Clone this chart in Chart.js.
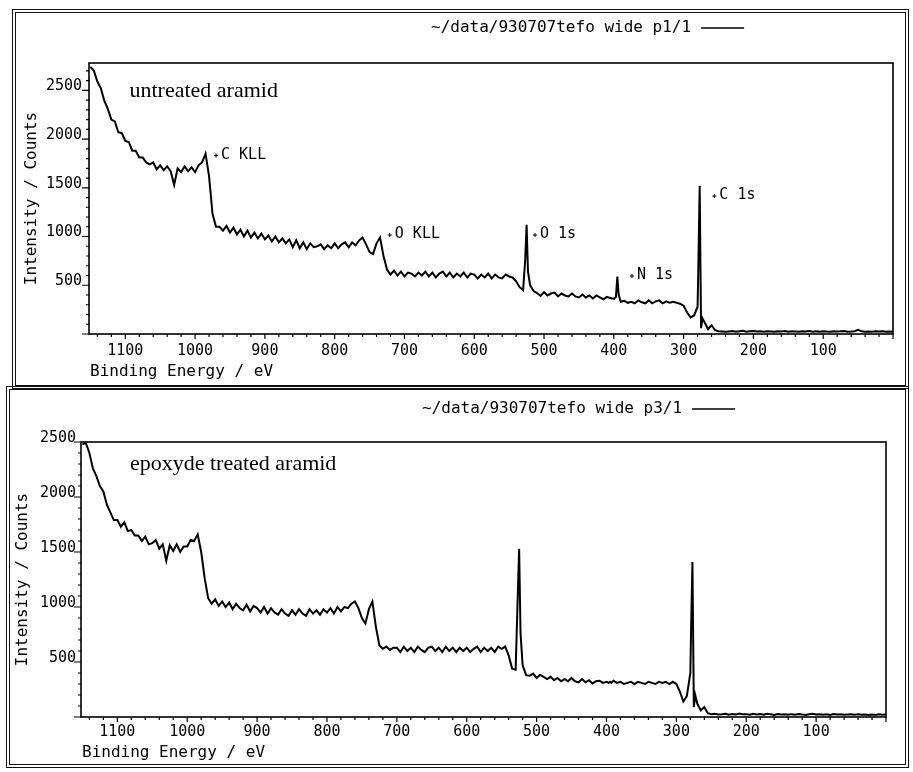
<!DOCTYPE html>
<html>
<head>
<meta charset="utf-8">
<title>XPS wide scans, aramid</title>
<script src="https://cdn.jsdelivr.net/npm/chart.js@4.4.0/dist/chart.umd.min.js"></script>
<style>
    body { margin: 0; background: #fff; width: 913px; height: 772px; position: relative; overflow: hidden; }
    .frame { position: absolute; border: 4px double #111; box-sizing: border-box; }
    #frameTop { left: 12px; top: 9px; width: 897px; height: 380px; }
    #frameBottom { left: 6px; top: 386px; width: 903px; height: 382px; }
    canvas { position: absolute; left: 0; }
    #topChart { top: 0; }
    #bottomChart { top: 388px; }
</style>
</head>
<body>
<div class="frame" id="frameTop"></div>
<div class="frame" id="frameBottom"></div>
<canvas id="topChart" width="913" height="388"></canvas>
<canvas id="bottomChart" width="913" height="384"></canvas>
<script>
// binding energy (eV), shared by both scans
const energy = [
    1150, 1145, 1140, 1135, 1130, 1125, 1120, 1115, 1110, 1105,
    1100, 1095, 1090, 1085, 1080, 1075, 1070, 1065, 1060, 1055,
    1050, 1045, 1040, 1035, 1030, 1025, 1020, 1015, 1010, 1005,
    1000, 995, 990, 985, 980, 975, 970, 965, 960, 955,
    950, 945, 940, 935, 930, 925, 920, 915, 910, 905,
    900, 895, 890, 885, 880, 875, 870, 865, 860, 855,
    850, 845, 840, 835, 830, 825, 820, 815, 810, 805,
    800, 795, 790, 785, 780, 775, 770, 765, 760, 755,
    750, 745, 740, 735, 730, 725, 720, 715, 710, 705,
    700, 695, 690, 685, 680, 675, 670, 665, 660, 655,
    650, 645, 640, 635, 630, 625, 620, 615, 610, 605,
    600, 595, 590, 585, 580, 575, 570, 565, 560, 555,
    550, 545, 540, 535, 530, 527, 525, 523, 520, 515,
    510, 505, 500, 495, 490, 485, 480, 475, 470, 465,
    460, 455, 450, 445, 440, 435, 430, 425, 420, 415,
    410, 405, 400, 397, 395, 393, 390, 385, 380, 375,
    370, 365, 360, 355, 350, 345, 340, 335, 330, 325,
    320, 315, 310, 305, 300, 295, 290, 285, 280, 279,
    277, 275, 273, 270, 265, 260, 255, 250, 245, 240,
    235, 230, 225, 220, 215, 210, 205, 200, 195, 190,
    185, 180, 175, 170, 165, 160, 155, 150, 145, 140,
    135, 130, 125, 120, 115, 110, 105, 100, 95, 90,
    85, 80, 75, 70, 65, 60, 55, 50, 45, 40,
    35, 30, 25, 20, 15, 10, 5, 0
];

// untreated aramid (p1/1)
const untreatedCounts = [
    2740, 2700, 2590, 2520, 2390, 2310, 2200, 2180, 2070, 2060,
    1980, 1970, 1880, 1880, 1810, 1810, 1760, 1740, 1760, 1690,
    1730, 1680, 1720, 1670, 1530, 1700, 1660, 1720, 1670, 1710,
    1660, 1730, 1760, 1850, 1620, 1230, 1100, 1100, 1060, 1110,
    1040, 1090, 1020, 1070, 1000, 1060, 990, 1040, 980, 1030,
    970, 1010, 950, 1000, 940, 980, 930, 970, 890, 960,
    880, 940, 870, 930, 890, 900, 920, 870, 910, 880,
    930, 880, 920, 940, 890, 940, 910, 960, 990, 920,
    840, 820, 930, 990, 800, 660, 610, 650, 600, 640,
    590, 630, 620, 590, 630, 600, 640, 590, 630, 580,
    620, 640, 590, 630, 580, 620, 590, 630, 580, 620,
    610, 570, 610, 580, 620, 570, 610, 580, 570, 610,
    590, 580, 540, 480, 450, 760, 1120, 640, 500, 440,
    420, 390, 430, 395, 415, 425, 385, 415, 395, 385,
    415, 385, 375, 405, 375, 395, 365, 395, 375, 355,
    380, 370, 360, 380, 590, 400, 330, 340, 320, 330,
    315, 345, 325, 315, 345, 315, 335, 345, 315, 335,
    320, 330, 320, 310, 290, 220, 170, 190, 280, 650,
    1520, 60, 160, 120, 50, 90, 40, 28, 25, 22,
    26, 30, 23, 28, 32, 24, 27, 30, 25, 28,
    24, 29, 26, 23, 28, 25, 30, 24, 27, 26,
    23, 28, 25, 30, 24, 27, 23, 29, 26, 24,
    28, 25, 27, 30, 24, 26, 29, 42, 27, 24,
    26, 23, 28, 25, 27, 24, 26, 23
];

// epoxyde treated aramid (p3/1)
const epoxydeCounts = [
    2480, 2490, 2400, 2260, 2190, 2100, 2050, 1930, 1860, 1790,
    1790, 1730, 1770, 1690, 1700, 1650, 1650, 1600, 1640, 1570,
    1580, 1610, 1530, 1570, 1420, 1560, 1510, 1570, 1500, 1550,
    1550, 1610, 1600, 1660, 1500, 1260, 1080, 1030, 1070, 1010,
    1050, 1000, 1040, 980, 1030, 990, 970, 1020, 960, 1010,
    990, 950, 1000, 940, 990, 950, 930, 980, 940, 920,
    970, 930, 980, 940, 920, 980, 940, 970, 930, 980,
    950, 990, 940, 1000, 960, 1000, 990, 1030, 1050, 990,
    900, 850, 980, 1050, 820, 650, 620, 640, 610, 630,
    630, 590, 640, 600, 630, 590, 640, 610, 590, 630,
    640, 600, 630, 590, 640, 600, 630, 590, 630, 600,
    630, 590, 620, 640, 590, 630, 600, 630, 590, 640,
    620, 640, 560, 440, 430, 1100, 1530, 760, 470, 380,
    375, 395, 355, 385, 365, 345, 365, 335, 355, 325,
    345, 325, 355, 325, 315, 345, 315, 335, 305, 325,
    330, 310, 320, 310, 320, 310, 330, 310, 320, 300,
    310, 320, 300, 320, 310, 300, 320, 310, 300, 320,
    310, 320, 300, 320, 300, 230, 140, 190, 400, 770,
    1410, 90, 200, 120, 60, 90, 35, 25, 30, 22,
    25, 30, 20, 28, 22, 32, 24, 26, 20, 29,
    23, 27, 21, 30, 24, 19, 27, 22, 25, 20,
    26, 21, 28, 23, 19, 25, 30, 22, 26, 21,
    24, 19, 27, 22, 25, 20, 23, 26, 21, 24,
    20, 23, 18, 22, 19, 24, 20, 22
];

// labelled ticks
const energyTicks = [1100, 1000, 900, 800, 700, 600, 500, 400, 300, 200, 100];
const countTicks = [500, 1000, 1500, 2000, 2500];

// peak markers of the untreated scan, placed in data units (eV, counts)
const peakNames = ['C KLL', 'O KLL', 'O 1s', 'N 1s', 'C 1s'];
const peakMarkEnergy = [970, 721, 513, 374, 256];
const peakMarkCounts = [1830, 1015, 1015, 595, 1415];

const mono = '"DejaVu Sans Mono", monospace';
const serif = '"Liberation Serif", "DejaVu Serif", serif';

function decorPlugin(p) {
    return {
        id: 'decor',
        afterDatasetsDraw(chart) {
            const {ctx, chartArea: a, scales: {x, y}} = chart;
            ctx.save();
            ctx.strokeStyle = '#000';
            ctx.fillStyle = '#000';

            // plot box
            ctx.lineWidth = 1.6;
            ctx.strokeRect(a.left, a.top, a.right - a.left, a.bottom - a.top);

            // outside tick marks: 20 eV and 100 counts
            ctx.lineWidth = 1.2;
            ctx.beginPath();
            for (let e = 0; e <= 1140; e += 20) {
                const px = x.getPixelForValue(e);
                ctx.moveTo(px, a.bottom);
                ctx.lineTo(px, a.bottom + (e % 100 === 0 ? 5 : 3));
            }
            for (let c = 0; c <= p.yMax; c += 100) {
                const py = y.getPixelForValue(c);
                ctx.moveTo(a.left, py);
                ctx.lineTo(a.left - (c % 500 === 0 ? 7 : 3), py);
            }
            ctx.stroke();

            // x axis title, left aligned under the axis
            ctx.font = '16px ' + mono;
            ctx.textAlign = 'left';
            ctx.textBaseline = 'middle';
            ctx.fillText('Binding Energy / eV', a.left + 1, a.bottom + p.xTitleDy);

            // file name + legend line
            ctx.fillText(p.file, p.headerX, p.headerY);
            const w = ctx.measureText(p.file).width;
            ctx.lineWidth = 1.5;
            ctx.beginPath();
            ctx.moveTo(p.headerX + w + 10, p.headerY);
            ctx.lineTo(p.headerX + w + 53, p.headerY);
            ctx.stroke();

            // sample name
            ctx.font = '22px ' + serif;
            ctx.textBaseline = 'alphabetic';
            ctx.fillText(p.sample, x.getPixelForValue(p.sampleE), y.getPixelForValue(p.sampleC));

            if (p.peaks) {
                ctx.font = '15px ' + mono;
                ctx.lineWidth = 1;
                peakNames.forEach((name, i) => {
                    const mx = x.getPixelForValue(peakMarkEnergy[i]);
                    const my = y.getPixelForValue(peakMarkCounts[i]);
                    ctx.beginPath();
                    ctx.moveTo(mx - 2, my);
                    ctx.lineTo(mx + 2, my);
                    ctx.moveTo(mx, my - 2);
                    ctx.lineTo(mx, my + 2);
                    ctx.stroke();
                    ctx.fillText(name, mx + 5, my + 3);
                });
            }
            ctx.restore();
        }
    };
}

function drawSpectrum(canvasId, counts, p) {
    const points = energy.map((e, i) => ({x: e, y: counts[i]}));
    return new Chart(document.getElementById(canvasId), {
        type: 'line',
        data: {
            datasets: [{
                    data: points,
                    borderColor: '#000',
                    borderWidth: 2,
                    pointRadius: 0,
                    tension: 0,
                    fill: false
                }]
        },
        options: {
            responsive: false,
            animation: false,
            layout: {padding: p.padding},
            plugins: {legend: {display: false}, tooltip: {enabled: false}},
            scales: {
                x: {
                    type: 'linear',
                    reverse: true,
                    min: 0,
                    max: 1152,
                    grid: {display: false, drawTicks: false},
                    border: {display: false},
                    afterFit: s => { s.height = p.xAxisHeight; },
                    afterBuildTicks: s => { s.ticks = energyTicks.map(v => ({value: v})); },
                    ticks: {
                        autoSkip: false,
                        maxRotation: 0,
                        padding: p.xTickPad,
                        color: '#000',
                        font: {family: mono, size: 15},
                        callback: v => String(v)
                    },
                    title: {display: false}
                },
                y: {
                    min: 0,
                    max: p.yMax,
                    grid: {display: false, drawTicks: false},
                    border: {display: false},
                    afterFit: s => { s.width = p.yAxisWidth; },
                    afterBuildTicks: s => { s.ticks = countTicks.map(v => ({value: v})); },
                    ticks: {
                        autoSkip: false,
                        padding: p.yTickPad,
                        labelOffset: -4,
                        color: '#000',
                        font: {family: mono, size: 15},
                        callback: v => String(v)
                    },
                    title: {
                        display: true,
                        text: 'Intensity / Counts',
                        color: '#000',
                        font: {family: mono, size: 16},
                        padding: {top: p.yTitlePad, bottom: 0}
                    }
                }
            }
        },
        plugins: [decorPlugin(p)]
    });
}

drawSpectrum('topChart', untreatedCounts, {
    padding: {top: 63, right: 20, bottom: 8, left: 0},
    yAxisWidth: 89, xAxisHeight: 46,
    xTickPad: 8, yTickPad: 7, yTitlePad: 22, xTitleDy: 38,
    yMax: 2780,
    file: '~/data/930707tefo wide p1/1', headerX: 431, headerY: 28,
    sample: 'untreated aramid', sampleE: 1094, sampleC: 2433,
    peaks: true
});

drawSpectrum('bottomChart', epoxydeCounts, {
    padding: {top: 54, right: 27, bottom: 11, left: 0},
    yAxisWidth: 81, xAxisHeight: 44,
    xTickPad: 6, yTickPad: 5, yTitlePad: 13, xTitleDy: 36,
    yMax: 2500,
    file: '~/data/930707tefo wide p3/1', headerX: 422, headerY: 21,
    sample: 'epoxyde treated aramid', sampleE: 1082, sampleC: 2243,
    peaks: false
});
</script>
</body>
</html>
